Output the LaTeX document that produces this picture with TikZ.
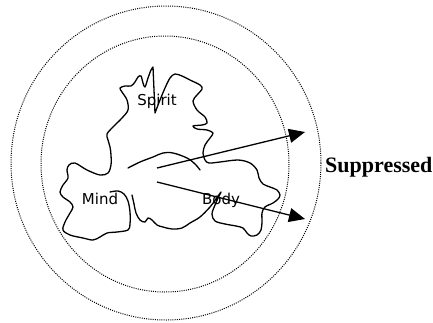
\documentclass[tikz,border=0pt]{standalone}
\usepackage{fontspec}
\setmainfont{Liberation Serif}
\newfontfamily\labelfont{DejaVu Sans}
\usetikzlibrary{arrows.meta}
\tikzset{
  ring/.style={line width=1pt,dash pattern=on 1pt off 1.2pt},
  blob/.style={line width=1.3pt,line join=round,line cap=round},
  push/.style={line width=1.3pt,-{Triangle[length=16pt,width=14pt]}},
  part/.style={font=\labelfont\fontsize{15}{17}\selectfont,anchor=base,inner sep=0pt},
}
\begin{document}
\begin{tikzpicture}[x=1pt,y=-1pt]
\useasboundingbox (0,0) rectangle (433,322);
% the two dotted rings
\draw[ring] (166,163) ellipse [x radius=155, y radius=157];
\draw[ring] (165,164) ellipse [x radius=124, y radius=128];
% the freehand outline of spirit, mind and body
\draw[blob] plot[smooth,tension=0.55] coordinates {
  (110,192) (118,191) (124,194) (128,201) (130,212) (130,224) (128,230)
  (117,232) (107,233) (100,237) (93,240) (83,238) (70,235) (63,230)
  (65,222) (70,213) (73,207) (70,202) (63,197) (60,192) (63,185)
  (68,178) (67,170) (69,165) (75,163) (87,170) (100,175) (108,173)
  (111,165) (111,155) (110,147) (108,140) (107,134) (113,127) (122,118)
  (128,110) (127,100) (122,92) (120,88) (125,86) (131,86) (135,82)
  (138,77) (141,76) (143,83) (145,87) (148,78) (151,70) (153,67)}
  -- (155,113)
  plot[smooth,tension=0.55] coordinates {
  (155,113) (160,100) (165,88) (170,78) (175,74) (182,76) (190,80)
  (200,85) (202,89) (197,95) (193,101) (197,110) (205,117) (207,123)
  (202,125) (193,126) (197,129) (207,130) (213,133) (210,138) (205,145)
  (203,153) (205,160) (209,163) (220,162) (238,160) (250,163) (257,170)
  (259,178) (263,184) (270,187) (277,190) (280,195) (278,199) (273,203)
  (265,207) (262,213) (262,222) (261,230) (257,235) (251,236) (247,233)
  (243,228) (236,226) (225,224) (215,221) (212,214) (215,205) (219,196)
  (221,192) (216,199) (210,207) (200,217) (190,223) (182,228) (172,229)
  (163,227) (157,225) (152,220) (148,218) (145,222) (140,220) (136,213)
  (134,204) (132,195)};
% the bow in the middle
\draw[blob] plot[smooth,tension=0.6] coordinates {
  (128,168) (140,162) (153,157) (163,153) (173,153) (187,158) (195,164) (200,170)};
\node[part] (spirit) at (157,105) {Spirit};
\node[part] (mind) at (100,204) {Mind};
\node[part] (body) at (221,204) {Body};
\node[font=\bfseries\fontsize{22}{24}\selectfont,anchor=base west,inner sep=0pt]
  (supp) at (325,172) {Suppressed};
\coordinate (top0) at (157,168);
\coordinate (top1) at (305,132);
\coordinate (low0) at (157,182);
\coordinate (low1) at (305,219);
\draw[push] (top0) -- (top1);
\draw[push] (low0) -- (low1);
\end{tikzpicture}
\end{document}
